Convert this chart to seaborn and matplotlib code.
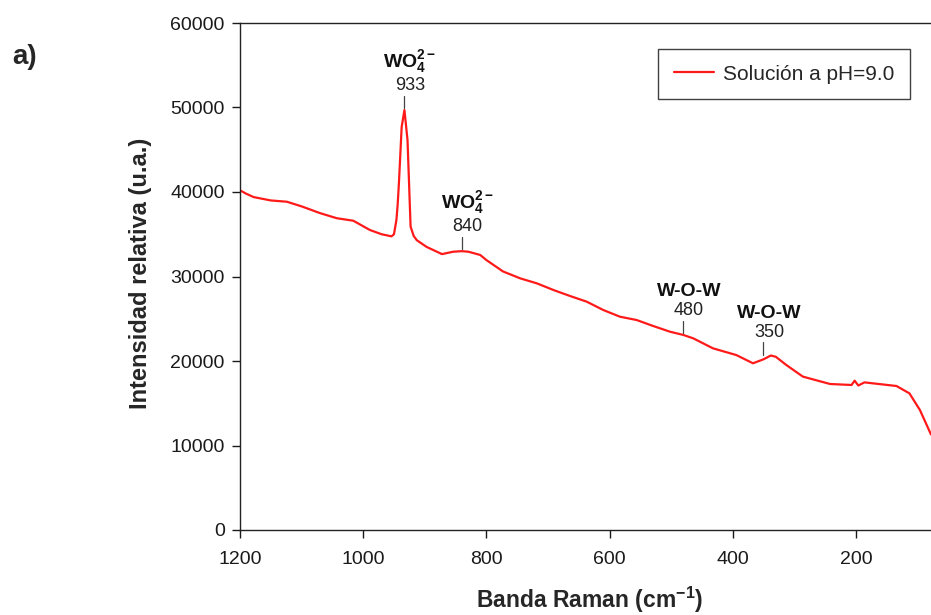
import matplotlib
matplotlib.use("Agg")
import matplotlib.pyplot as plt
import seaborn as sns
import pandas as pd

# Raman spectrum of the tungstate solution at pH 9.0
wavenumber = [1200, 1190, 1178, 1150, 1124, 1100, 1070, 1043, 1016, 989, 970,
              954, 950, 946, 944, 942, 937.5, 933, 928, 923, 918, 913, 897,
              872, 854, 840, 829, 810, 800, 773, 745, 718, 691, 664, 637, 610,
              583, 556, 529, 502, 480, 464, 432, 394, 367, 350, 338, 330, 313,
              286, 242, 207, 202, 196, 186, 134, 113, 96, 78]
intensity = [40200, 39800, 39400, 39000, 38850, 38300, 37500, 36900, 36600,
             35500, 35000, 34750, 35000, 36700, 38500, 41000, 47700, 49700,
             46150, 35900, 34800, 34300, 33500, 32650, 32930, 33000, 32930,
             32550, 31950, 30600, 29780, 29190, 28400, 27690, 27020, 26030,
             25240, 24850, 24140, 23470, 23080, 22680, 21500, 20700, 19730,
             20200, 20650, 20500, 19530, 18150, 17280, 17160, 17670, 17100,
             17470, 17040, 16170, 14200, 11300]

# Band assignments: position, species, curve height at the band
band_pos = [933, 840, 480, 350]
band_species = [r"$\mathbf{WO_4^{2-}}$", r"$\mathbf{WO_4^{2-}}$", "W-O-W", "W-O-W"]
band_curve = [49700, 33000, 23080, 20500]

x_ticks = [1200, 1000, 800, 600, 400, 200]
y_ticks = [0, 10000, 20000, 30000, 40000, 50000, 60000]
series_label = "Solución a pH=9.0"

sns.set_style("ticks")
plt.rcParams["font.family"] = ["Liberation Sans", "DejaVu Sans"]
plt.rcParams["mathtext.fontset"] = "custom"
plt.rcParams["mathtext.rm"] = "Liberation Sans"
plt.rcParams["mathtext.it"] = "Liberation Sans:italic"
plt.rcParams["mathtext.bf"] = "Liberation Sans:bold"

fig = plt.figure(figsize=(9.31, 6.15), dpi=100)
ax = fig.add_axes([240 / 931, 85 / 615, 691 / 931, 507 / 615])

df = pd.DataFrame({"Banda": wavenumber, "Intensidad": intensity})
sns.lineplot(data=df, x="Banda", y="Intensidad", ax=ax, color="#ff1a1a",
             linewidth=1.6, label=series_label)

ax.set_xlim(1200, 78)
ax.set_ylim(0, 60000)
ax.set_xticks(x_ticks)
ax.set_yticks(y_ticks)
ax.tick_params(axis="both", direction="out", length=6, width=1,
               labelsize=14, colors="#1a1a1a")
ax.tick_params(axis="x", pad=9)
ax.tick_params(axis="y", pad=5)
for side in ("left", "bottom", "top"):
    ax.spines[side].set_color("#222222")
    ax.spines[side].set_linewidth(1.0)
ax.spines["right"].set_visible(False)
ax.set_xlabel("")
ax.set_ylabel("")

# Band markers with their assignment
for pos, species, yc in zip(band_pos, band_species, band_curve):
    top = yc + 1700
    ax.plot([pos, pos], [yc + 200, top], color="#444444", lw=0.9)
    ax.annotate(str(pos), xy=(pos, top), xytext=(4, 1),
                textcoords="offset points", ha="center", va="bottom",
                fontsize=13, color="#222222")
    ax.annotate(species, xy=(pos, top), xytext=(4, 15),
                textcoords="offset points", ha="center", va="bottom",
                fontsize=14, fontweight="bold", color="#111111")

leg = ax.legend(loc="upper right", bbox_to_anchor=(910 / 931, 1 - 49 / 615),
                bbox_transform=fig.transFigure, borderaxespad=0,
                frameon=True, fancybox=False, fontsize=15,
                handlelength=1.9, borderpad=0.75, handletextpad=0.45)
leg.get_frame().set_edgecolor("#111111")
leg.get_frame().set_linewidth(1.0)

fig.text(590 / 931, 1 - 600 / 615, r"Banda Raman (cm$^{\mathbf{-1}}$)",
         ha="center", va="center", fontsize=16.5, fontweight="bold")
fig.text(141 / 931, 1 - 273 / 615, "Intensidad relativa (u.a.)",
         ha="center", va="center", rotation=90, fontsize=17, fontweight="bold")
fig.text(25 / 931, 1 - 57 / 615, "a)", ha="center", va="center",
         fontsize=20, fontweight="bold")

fig.savefig("out.png", dpi=100)
